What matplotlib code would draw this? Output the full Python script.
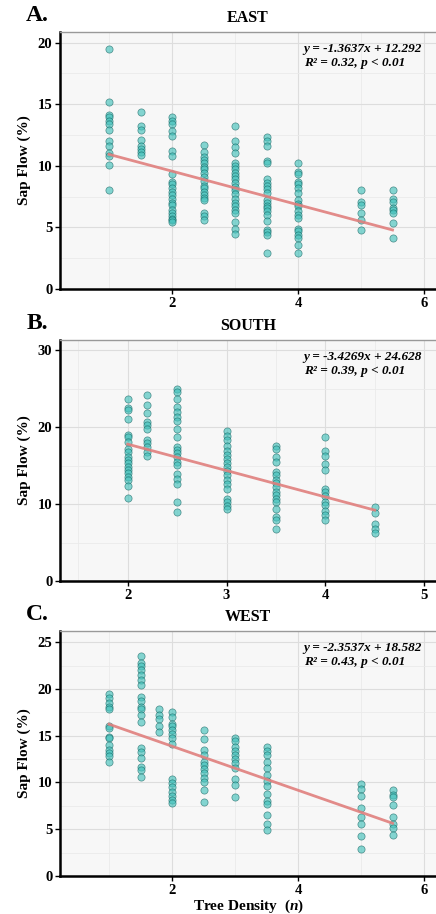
import numpy as np
import matplotlib
matplotlib.use("Agg")
import matplotlib.pyplot as plt
from matplotlib.ticker import MultipleLocator

plt.rcParams['font.family'] = ['Liberation Serif', 'DejaVu Serif']
plt.rcParams['font.weight'] = 'bold'
plt.rcParams['mathtext.fontset'] = 'custom'
plt.rcParams['mathtext.it'] = 'Liberation Serif:italic:bold'
plt.rcParams['mathtext.rm'] = 'Liberation Serif:bold'

# ---- EAST ----
east_x = [1] * 13 + [1.5] * 8 + [2] * 22 + [2.5] * 19 + [3] * 22 + [3.5] * 21 + [4] * 19 + [5] * 6 + [5.5] * 8
east_y = [19.5, 15.2, 14.1, 14.0, 13.6, 13.4, 12.9, 12.0, 11.6, 11.0, 10.8, 10.1, 8.0,
          14.4, 13.2, 12.9, 12.1, 11.6, 11.4, 11.1, 10.9,
          14.0, 13.6, 13.4, 12.8, 12.4, 11.2, 10.8, 9.35, 8.7, 8.5, 8.2, 7.9, 7.6, 7.3, 7.0, 6.8,
          6.4, 6.2, 5.9, 5.7, 5.6, 5.4,
          11.7, 11.1, 10.7, 10.5, 10.2, 9.9, 9.7, 9.4, 9.1, 8.8, 8.4, 8.2, 7.9, 7.6, 7.4, 7.2,
          6.2, 5.9, 5.6,
          13.2, 12.0, 11.5, 11.0, 10.2, 10.0, 9.7, 9.4, 9.2, 8.9, 8.6, 8.3, 8.0, 7.7, 7.3, 7.0,
          6.7, 6.4, 6.2, 5.4, 4.9, 4.5,
          12.3, 12.0, 11.6, 10.4, 10.2, 8.9, 8.6, 8.4, 8.1, 7.8, 7.2, 7.0, 6.7, 6.6, 6.3, 6.0,
          5.5, 4.8, 4.6, 4.4, 2.9,
          10.2, 9.5, 9.3, 8.7, 8.5, 8.2, 7.8, 7.2, 6.9, 6.7, 6.3, 6.0, 5.8, 4.9, 4.7, 4.4,
          4.1, 3.6, 2.9,
          8.05, 7.1, 6.8, 6.2, 5.6, 4.75,
          8.05, 7.3, 7.1, 6.6, 6.4, 6.2, 5.35, 4.1]

# ---- SOUTH ----
south_x = [2] * 19 + [2.2] * 11 + [2.5] * 20 + [3] * 18 + [3.5] * 17 + [4] * 13 + [4.5] * 5
south_y = [23.6, 22.5, 22.2, 21.1, 19.0, 18.7, 18.1, 17.1, 16.7, 16.1, 15.7, 15.3, 14.8,
           14.4, 14.0, 13.5, 13.1, 12.3, 10.8,
           24.2, 22.9, 21.8, 20.6, 20.3, 19.8, 18.3, 17.9, 17.4, 16.8, 16.2,
           24.9, 24.5, 23.6, 22.6, 21.9, 21.3, 20.8, 19.8, 18.7, 17.4, 17.0, 16.6, 16.1, 15.5,
           15.1, 13.9, 13.3, 12.6, 10.2, 9.0,
           19.5, 18.8, 18.3, 17.5, 16.9, 16.4, 15.9, 15.3, 14.8, 14.3, 13.8, 13.1, 12.6, 12.0,
           10.6, 10.2, 9.7, 9.4,
           17.5, 17.1, 16.1, 15.4, 14.2, 13.8, 13.1, 12.7, 12.2, 11.6, 11.2, 10.7, 10.3, 9.4,
           8.3, 7.9, 6.7,
           18.7, 16.9, 16.2, 15.2, 14.4, 12.0, 11.5, 11.0, 10.3, 9.9, 9.1, 8.6, 7.9,
           9.6, 8.8, 7.4, 6.8, 6.2]

# ---- WEST ----
west_x = [1] * 14 + [1.5] * 19 + [1.8] * 5 + [2] * 15 + [2.5] * 12 + [3] * 11 + [3.5] * 14 + [5] * 8 + [5.5] * 8
west_y = [19.5, 19.0, 18.5, 18.1, 17.8, 16.0, 15.8, 14.9, 14.7, 14.0, 13.5, 13.1, 12.8, 12.2,
          23.5, 22.8, 22.4, 22.0, 21.5, 21.0, 20.4, 19.1, 18.7, 18.1, 17.8, 17.2, 16.5, 13.7,
          13.3, 12.6, 11.7, 11.3, 10.6,
          17.8, 17.2, 16.8, 16.0, 15.4,
          17.5, 17.0, 16.3, 16.0, 15.6, 15.2, 14.7, 14.1, 10.4, 9.9, 9.5, 9.0, 8.5, 8.1, 7.8,
          15.6, 14.6, 13.5, 12.9, 12.2, 11.9, 11.4, 11.0, 10.5, 10.1, 9.2, 7.95,
          14.8, 14.4, 13.8, 13.4, 12.9, 12.5, 12.1, 11.5, 10.4, 9.7, 8.4,
          13.8, 13.4, 12.9, 12.2, 11.5, 10.8, 10.2, 9.6, 8.8, 8.0, 7.7, 6.5, 5.6, 4.9,
          9.8, 9.3, 8.6, 7.3, 6.3, 5.6, 4.3, 2.9,
          9.2, 8.7, 8.4, 7.6, 6.3, 5.6, 5.1, 4.4]

# fitted lines as reported: slope, intercept, R2
fits = {'EAST': (-1.3637, 12.292, '0.32'),
        'SOUTH': (-3.4269, 24.628, '0.39'),
        'WEST': (-2.3537, 18.582, '0.43')}

panels = [
    ('A.', 'EAST', east_x, east_y, [0.1376, 0.6838, 0.8624, 0.2812],
     (0.222, 6.19), (0, 20.86), 2, 1, 5, 2.5),
    ('B.', 'SOUTH', south_x, south_y, [0.1376, 0.3643, 0.8624, 0.2637],
     (1.315, 5.12), (0, 31.3), 1, 0.5, 10, 5),
    ('C.', 'WEST', west_x, west_y, [0.1376, 0.0416, 0.8624, 0.2681],
     (0.222, 6.19), (0, 26.2), 2, 1, 5, 2.5),
]

fig = plt.figure(figsize=(4.36, 9.14), dpi=100)

for tag, name, xs, ys, pos, xlim, ylim, xmaj, xmin, ymaj, ymin in panels:
    ax = fig.add_axes(pos)
    ax.set_facecolor('#F7F7F7')
    ax.set_xlim(*xlim)
    ax.set_ylim(*ylim)
    ax.xaxis.set_major_locator(MultipleLocator(xmaj))
    ax.xaxis.set_minor_locator(MultipleLocator(xmin))
    ax.yaxis.set_major_locator(MultipleLocator(ymaj))
    ax.yaxis.set_minor_locator(MultipleLocator(ymin))
    ax.grid(which='major', color='#DDDDDD', linewidth=0.8)
    ax.grid(which='minor', color='#EAEAEA', linewidth=0.6)
    ax.set_axisbelow(True)
    ax.tick_params(which='minor', length=0)
    ax.tick_params(which='major', length=3.5, width=1.0, direction='out',
                   labelsize=10.5, pad=2, colors='black')
    for lab in ax.get_xticklabels() + ax.get_yticklabels():
        lab.set_fontweight('bold')

    for side in ['left', 'bottom']:
        ax.spines[side].set_linewidth(1.8)
        ax.spines[side].set_color('black')
    ax.spines['top'].set_color('#999999')
    ax.spines['top'].set_linewidth(1.0)
    ax.spines['right'].set_visible(False)

    ax.scatter(xs, ys, s=27, color='#45C2BC', alpha=0.65,
               edgecolors='#0E5E5B', linewidths=0.5, zorder=3)

    slope, icpt, r2 = fits[name]
    lx = np.array([min(xs), max(xs)])
    ax.plot(lx, slope * lx + icpt, color='#E07F7D', linewidth=2.0, alpha=0.9, zorder=4)

    h = pos[3] * 914
    ax.text(0.648, 1 - 17 / h, f'y = {slope:.4f}x + {icpt:.3f}',
            transform=ax.transAxes, fontsize=9.5, fontstyle='italic', fontweight='bold',
            va='center', ha='left')
    ax.text(0.648, 1 - 31 / h, f'R² = {r2}, p < 0.01', transform=ax.transAxes,
            fontsize=9.5, fontstyle='italic', fontweight='bold', va='center', ha='left')

    ax.set_ylabel('Sap Flow (%)', fontsize=11, fontweight='bold', labelpad=5)
    ax.set_title(name, fontsize=11.5, fontweight='bold', pad=7)
    ax.text(-0.09, 1 + 6 / h, tag, transform=ax.transAxes, fontsize=17,
            fontweight='bold', va='bottom', ha='left')

    if name == 'WEST':
        ax.set_xlabel(r'Tree Density  ($\mathit{n}$)', fontsize=11,
                      fontweight='bold', labelpad=1)

fig.savefig('out.png', dpi=100)
